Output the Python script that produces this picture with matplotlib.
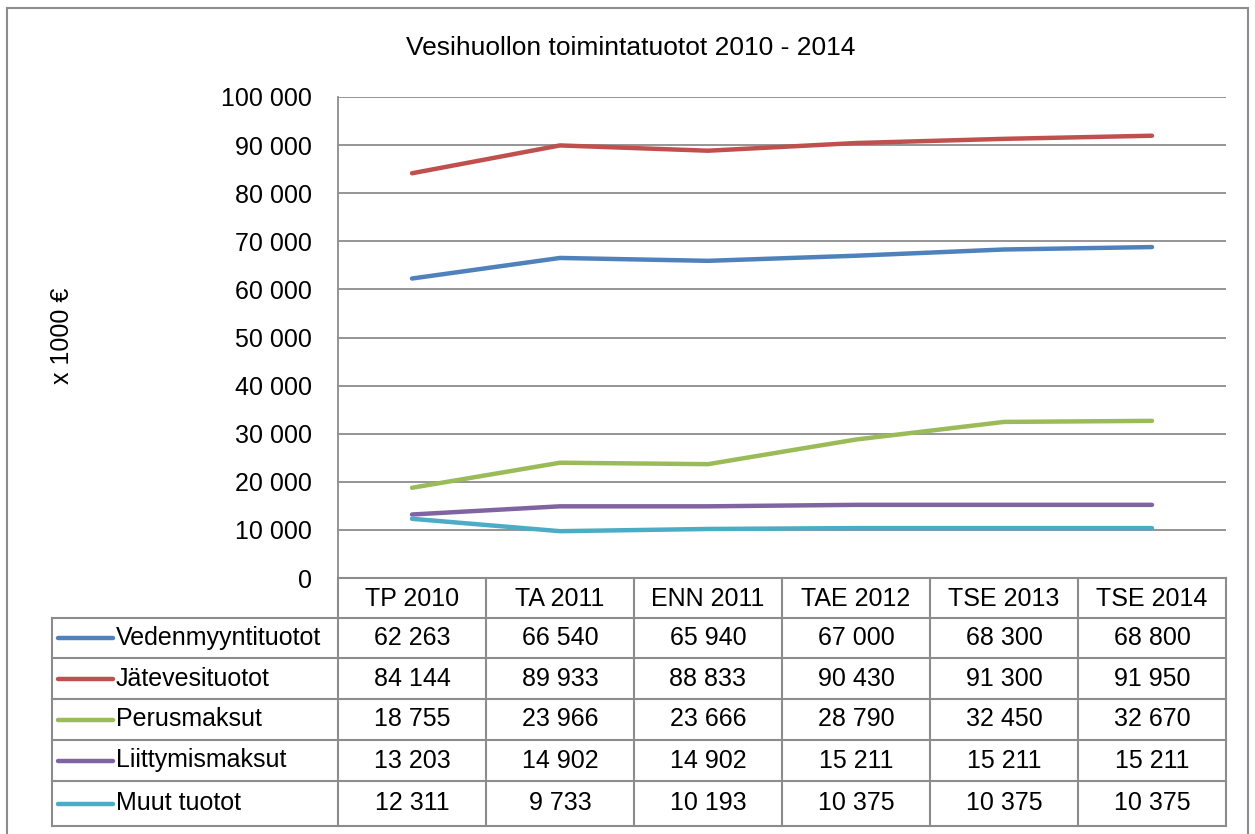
import matplotlib
matplotlib.use("Agg")
import matplotlib.pyplot as plt
from matplotlib.patches import Rectangle
from matplotlib.ticker import FuncFormatter

plt.rcParams["font.family"] = ["Liberation Sans Narrow", "Liberation Sans", "DejaVu Sans"]

categories = ["TP 2010", "TA 2011", "ENN 2011", "TAE 2012", "TSE 2013", "TSE 2014"]
series_names = ["Vedenmyyntituotot", "Jätevesituotot", "Perusmaksut",
                "Liittymismaksut", "Muut tuotot"]
vedenmyynti = [62263, 66540, 65940, 67000, 68300, 68800]
jatevesi = [84144, 89933, 88833, 90430, 91300, 91950]
perusmaksut = [18755, 23966, 23666, 28790, 32450, 32670]
liittymis = [13203, 14902, 14902, 15211, 15211, 15211]
muut = [12311, 9733, 10193, 10375, 10375, 10375]
series = [vedenmyynti, jatevesi, perusmaksut, liittymis, muut]
colors = ["#4F81BD", "#C0504D", "#9BBB59", "#8064A2", "#4BACC6"]

W, H = 1255, 834
fig = plt.figure(figsize=(W / 100, H / 100), dpi=100)
grid_c = "#8c8c8c"
fs = 18


def fx(px):
    return px / W


def fy(px):
    return 1 - px / H


# outer chart border
fig.patches.append(Rectangle((fx(7), fy(860)), fx(1248 - 7), (860 - 8) / H,
                             transform=fig.transFigure, fill=False,
                             edgecolor=grid_c, lw=1.5))

# ---- line chart ----
x0, x1, ytop, ybot = 338, 1226, 97, 578
ax = fig.add_axes([fx(x0), fy(ybot), fx(x1 - x0), (ybot - ytop) / H])
xs = range(len(categories))
for vals, c in zip(series, colors):
    ax.plot(xs, vals, color=c, lw=3.2, solid_capstyle="round")
ax.set_xlim(-0.5, len(categories) - 0.5)
ax.set_ylim(0, 100000)
ax.set_yticks(range(0, 100001, 10000))
ax.yaxis.set_major_formatter(FuncFormatter(lambda v, p: f"{int(v):,}".replace(",", " ")))
ax.tick_params(axis="y", length=0, labelsize=fs, pad=19)
ax.set_xticks([])
ax.grid(axis="y", color=grid_c, lw=1.3)
ax.set_axisbelow(True)
for s in ["top", "right", "bottom"]:
    ax.spines[s].set_visible(False)
ax.spines["left"].set_color(grid_c)
ax.spines["left"].set_linewidth(1.3)

fig.text(fx(631), fy(48), "Vesihuollon toimintatuotot 2010 - 2014", ha="center",
         va="center", fontsize=19)
fig.text(fx(62), fy(336), "x 1000 €", rotation=90, ha="center", va="center",
         fontsize=fs)

# ---- data table ----
cell = (x1 - x0) / len(categories)
left_px = 52
tx0 = -0.5 - (x0 - left_px) / cell
row_px = [578, 618, 658, 699, 740, 781, 826]
tab = fig.add_axes([fx(left_px), fy(row_px[-1]), fx(x1 - left_px),
                    (row_px[-1] - row_px[0]) / H])
tab.set_xlim(tx0, len(categories) - 0.5)
tab.set_ylim(row_px[-1], row_px[0])
tab.axis("off")
lk = dict(color=grid_c, lw=1.5, clip_on=False)
# horizontal lines
tab.plot([-0.5, len(categories) - 0.5], [row_px[0], row_px[0]], **lk)
for y in row_px[1:]:
    tab.plot([tx0, len(categories) - 0.5], [y, y], **lk)
# vertical lines
for i in range(len(categories) + 1):
    tab.plot([i - 0.5, i - 0.5], [row_px[0], row_px[-1]], **lk)
tab.plot([tx0, tx0], [row_px[1], row_px[-1]], **lk)

for i, cat in enumerate(categories):
    tab.text(i, (row_px[0] + row_px[1]) / 2 + 1, cat, ha="center", va="center", fontsize=fs)
key_w = (113 - 58) / cell
for r, (name, vals, c) in enumerate(zip(series_names, series, colors)):
    ym = (row_px[r + 1] + row_px[r + 2]) / 2
    kx = tx0 + (58 - left_px) / cell
    tab.plot([kx, kx + key_w], [ym, ym], color=c, lw=3.2, solid_capstyle="round")
    tab.text(kx + key_w + 3 / cell, ym, name, ha="left", va="center", fontsize=fs)
    for i, v in enumerate(vals):
        tab.text(i, ym, f"{v:,}".replace(",", " "), ha="center", va="center", fontsize=fs)

fig.savefig("out.png", dpi=100)
